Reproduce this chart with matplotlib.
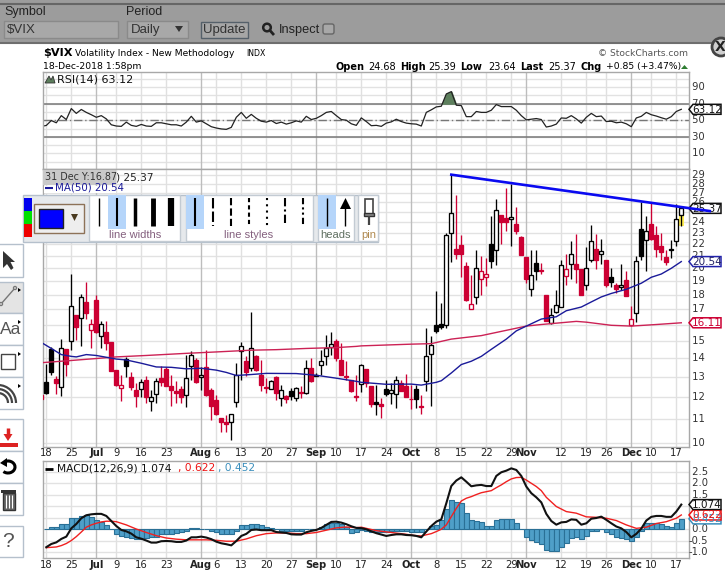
import numpy as np
import matplotlib
matplotlib.use("Agg")
import matplotlib.pyplot as plt
from matplotlib.patches import Rectangle, Polygon, FancyBboxPatch, Circle, Arc
from matplotlib.transforms import IdentityTransform

# ---------- data ----------
first_bar = -1
opens = [12.1,12.73,14.54,12.87,12.48,14.52,14.98,16.62,16.42,17.5,15.66,17.63,15.29,15.54,14.92,13.38,12.43,13.95,12.98,12.33,12.38,12.83,11.8,12.13,12.93,13.41,12.53,12.28,12.4,12.08,13.56,13.9,12.98,13.52,12.35,11.85,11.03,10.86,10.86,11.76,14.42,13.85,13.47,14.14,13.08,12.48,12.38,12.98,11.94,12.03,12.28,11.95,12.23,12.18,13.47,13.12,13.62,14.1,14.63,15.0,13.92,13.05,12.83,12.05,12.62,13.41,12.55,11.77,11.67,12.38,12.2,12.13,12.68,12.55,11.9,12.38,11.58,12.78,14.22,16.0,16.05,15.95,22.97,21.55,21.9,20.17,17.0,17.88,19.15,19.3,22.05,21.47,24.67,24.4,24.33,23.82,22.63,20.9,18.4,20.45,19.87,18.0,16.1,16.8,17.15,19.37,20.38,20.33,19.92,18.7,20.63,21.55,21.13,20.63,19.3,18.72,18.55,19.1,15.98,16.75,23.4,22.35,23.8,22.85,21.85,20.9,21.55,22.25,24.68]
highs = [12.1,13.69,14.63,13.02,15.12,14.52,19.57,16.62,18.07,18.94,16.37,18.0,16.2,16.2,14.92,13.38,13.11,14.07,13.27,12.68,12.88,13.02,12.35,12.93,13.56,13.52,13.11,12.77,12.52,14.2,14.42,14.01,13.5,14.48,12.43,12.1,11.03,11.18,11.2,13.74,14.92,14.14,16.8,14.2,13.92,12.93,12.85,13.05,12.6,12.1,12.43,12.48,12.52,13.92,14.01,13.18,14.48,15.35,15.55,15.1,14.87,13.82,12.83,13.1,13.7,13.41,12.55,12.6,11.94,12.85,12.68,13.05,12.85,13.16,12.6,12.6,12.1,15.8,15.27,18.3,17.4,22.97,29.0,26.8,22.8,20.5,19.5,21.5,21.0,20.8,24.6,26.35,24.67,27.5,28.0,25.5,22.73,20.9,21.5,21.5,20.45,18.0,17.1,18.35,20.63,21.2,22.3,22.9,19.92,21.77,23.73,22.9,22.5,20.7,20.0,18.83,20.38,19.75,17.25,21.0,26.0,24.6,25.9,23.7,23.0,21.5,22.35,25.85,25.39]
lows = [11.9,12.15,13.12,12.15,12.07,13.02,14.44,15.02,14.67,16.37,14.57,15.48,14.55,14.48,13.29,12.52,11.83,12.97,12.35,11.52,12.02,11.74,11.33,11.71,12.52,12.52,11.56,11.71,11.71,11.52,12.85,12.68,12.35,12.05,10.96,11.17,10.43,10.43,10.1,11.52,12.85,13.02,13.32,13.29,12.27,12.18,12.38,11.86,11.56,11.74,11.86,11.83,11.94,12.15,12.72,13.02,13.11,13.6,14.2,13.83,13.08,12.85,12.22,11.82,12.22,12.48,11.53,11.18,11.02,12.05,11.68,11.47,12.27,11.98,11.45,11.5,11.22,12.3,11.6,15.5,15.72,15.78,20.5,20.77,19.35,17.55,17.0,17.38,18.0,18.67,20.05,20.25,22.0,23.2,21.83,22.9,21.05,18.9,17.93,19.1,19.57,16.2,16.04,16.75,17.15,18.7,19.2,18.9,18.0,18.35,20.5,19.97,20.38,18.55,18.6,18.1,18.35,17.95,15.9,16.15,20.7,19.82,22.35,20.9,20.63,20.25,20.85,21.83,23.64]
closes = [11.9,12.2,13.23,12.7,14.57,13.67,17.22,15.83,17.84,16.73,16.02,15.52,16.04,14.85,13.29,12.6,12.58,13.56,12.47,12.07,12.73,11.98,12.02,12.77,12.75,12.52,12.32,12.17,12.02,12.93,14.16,12.73,13.08,12.08,11.56,11.2,10.85,10.76,11.2,13.08,14.67,13.23,14.55,13.34,12.57,12.42,12.77,12.17,12.32,11.89,12.07,12.42,12.18,13.45,12.77,13.05,13.83,14.55,14.78,14.03,13.12,12.97,12.27,11.98,13.62,12.68,11.65,11.68,11.6,12.12,12.33,12.83,12.3,12.0,11.89,11.92,11.53,14.12,14.75,15.58,15.82,22.87,24.87,21.2,21.15,17.65,17.35,20.0,19.75,19.53,20.62,25.2,24.03,24.0,24.53,23.2,21.1,19.2,19.47,19.82,19.75,16.2,16.6,17.27,20.3,19.92,21.13,19.92,18.0,20.0,22.33,20.63,21.38,18.7,18.95,18.4,18.7,17.95,16.35,20.6,21.0,23.15,22.45,21.63,21.33,20.5,21.47,24.35,25.37]
prev_close = 12.5

ma50_idx = [-1,1,3,5,6,8,10,12,14,16,19,22,25,28,31,34,36,38,41,44,50,54,58,62,63,68,73,75,78,79,81,83,85,87,89,92,94,96,99,102,104,107,109,111,113,116,119,121,123,125,127]
ma50_val = [14.9,14.55,14.2,14.1,14.07,14.2,14.15,14.05,13.95,13.9,13.72,13.52,13.5,13.42,13.45,13.35,13.23,13.07,13.12,13.18,13.17,13.08,12.93,12.77,12.72,12.62,12.63,12.58,12.72,12.8,13.2,13.65,13.83,14.1,14.5,15.1,15.6,15.9,16.35,16.5,16.9,17.15,17.5,17.85,18.1,18.4,18.85,19.3,19.55,20.0,20.54]
ma200_idx = [-1,4,10,14,20,28,34,41,46,52,58,62,63,73,77,81,87,96,99,106,108,113,117,122,127]
ma200_val = [13.75,13.85,13.98,14.07,14.15,14.27,14.35,14.45,14.48,14.55,14.6,14.67,14.7,14.8,14.83,15.1,15.31,15.9,16.0,16.2,16.15,15.95,15.9,16.0,16.11]

rsi_first = -1
rsi = [42.6,43.7,49.6,46.9,55.5,50.8,64,58.2,62.9,59.4,56.6,53.5,55.5,51.6,44.5,43,42.6,47.7,43.8,42.6,44.9,43,42.6,46.9,46.9,45.7,44.5,44.5,43,47.7,54.7,47.7,49.2,45.7,42.2,40.6,39.5,39,41.4,53.5,59.4,52.3,57,52.3,48.8,47.7,49.6,46,47.7,45.3,46.9,49.2,47.7,54.7,50.8,52.3,55.5,59.4,60.5,55.5,50.8,50,45.7,43.8,52.8,48.4,43.4,43.8,42.6,46.5,48,51.2,48.4,46.5,45.7,45.3,43,59.4,62.5,66,66.8,81.6,84.4,68,67.6,54.3,54.3,60.5,59.4,59.4,62,68.8,66.4,66.4,66.4,62,55.5,50.4,51.2,52,50.8,41.8,43,45.3,52.7,52.3,55.5,51.6,46.5,53.5,58.2,54.3,55,48.4,48.8,46.9,47.7,45.7,42.2,52.7,54.7,59.4,56.6,55,53,51.2,54.3,60.5,63.12]

macd_first = 0
macd = [-0.78,-0.64,-0.57,-0.42,-0.32,0.04,0.23,0.48,0.61,0.65,0.67,0.67,0.58,0.36,0.14,-0.03,-0.09,-0.19,-0.35,-0.41,-0.49,-0.58,-0.58,-0.52,-0.51,-0.52,-0.55,-0.55,-0.49,-0.35,-0.35,-0.32,-0.36,-0.43,-0.54,-0.61,-0.65,-0.7,-0.51,-0.29,-0.2,-0.03,-0.01,-0.04,-0.04,-0.04,-0.12,-0.14,-0.16,-0.22,-0.23,-0.23,-0.13,-0.07,-0.03,0.06,0.19,0.32,0.33,0.29,0.22,0.13,0.06,0.05,0,-0.09,-0.17,-0.23,-0.29,-0.25,-0.22,-0.22,-0.25,-0.26,-0.29,-0.35,-0.1,0.14,0.33,0.43,1.13,1.88,2.12,2.26,2.07,1.87,1.91,1.93,1.88,1.88,2.32,2.48,2.55,2.65,2.58,2.32,1.86,1.57,1.39,1.17,0.67,0.36,0.2,0.3,0.32,0.43,0.41,0.2,0.26,0.46,0.49,0.55,0.41,0.26,0.12,0.04,-0.12,-0.35,-0.2,0.03,0.38,0.54,0.58,0.58,0.54,0.54,0.77,1.074]
signal_idx = [0,2,3,4,5,6,7,8,9,10,11,12,13,14,15,16,18,20,22,24,26,28,30,32,34,36,38,40,42,44,46,48,50,52,54,56,58,60,62,63,66,69,72,74,75,77,78,79,80,81,82,83,84,85,86,87,89,90,91,92,93,94,95,96,97,98,99,100,102,104,106,108,110,112,114,116,118,120,122,124,126,127]
signal_val = [-0.8,-0.77,-0.71,-0.62,-0.49,-0.32,-0.12,0.09,0.19,0.26,0.32,0.35,0.35,0.33,0.26,0.19,0.01,-0.14,-0.28,-0.38,-0.43,-0.46,-0.46,-0.46,-0.48,-0.52,-0.52,-0.42,-0.28,-0.19,-0.16,-0.16,-0.19,-0.19,-0.14,-0.04,0.06,0.1,0.07,0.09,-0.06,-0.14,-0.22,-0.28,-0.29,-0.19,-0.1,0,0.19,0.55,0.91,1.23,1.35,1.42,1.51,1.59,1.68,1.81,1.93,2.07,2.19,2.25,2.26,2.14,2.0,1.86,1.68,1.39,0.99,0.77,0.7,0.54,0.52,0.48,0.38,0.19,0.04,0.09,0.25,0.33,0.48,0.622]
hist = [0,.09,.09,.22,.25,.49,.51,.58,.61,.52,.42,.3,.19,0,-.22,-.3,-.32,-.36,-.41,-.41,-.38,-.35,-.32,-.2,-.2,-.19,-.17,-.14,-.09,.04,.04,.03,.01,-.06,-.12,-.19,-.2,-.2,-.07,.17,.17,.25,.25,.17,.09,.04,0,-.06,-.06,-.06,-.06,-.06,0,0,.03,.09,.23,.26,.26,.22,.09,-.17,-.14,-.05,-.06,-.14,-.14,-.14,-.12,-.09,-.06,-.06,-.09,-.12,-.12,-.12,.03,.14,.2,.41,.87,1.28,1.2,1.13,.7,.41,.35,.3,.14,.14,.41,.43,.43,.43,.26,0,-.32,-.46,-.55,-.64,-.9,-.96,-.96,-.75,-.61,-.39,-.32,-.41,-.29,-.09,-.06,.01,-.13,-.2,-.32,-.36,-.41,-.49,-.32,-.06,.26,.26,.26,.23,.14,.09,.26,.452]

tick_idx = [0,5,10,14,19,24,31,34,39,44,49,54,58,63,68,73,78,83,88,93,96,103,108,112,117,121,126]
tick_lab = ['18','25','Jul','9','16','23','Aug','6','13','20','27','Sep','10','17','24','Oct','8','15','22','29','Nov','12','19','26','Dec','10','17']
months = ('Jul','Aug','Sep','Oct','Nov','Dec')
price_grid = [10,11,12,13,14,15,16,17,18,19,20,21,22,23,24,25,26,27,28,29]
price_ticks = [10,11,12,13,14,15,17,18,19,20,21,22,23,24,26,27,28,29]
rsi_ticks = [10,30,50,70,90]
macd_ticks = [-1.0,-0.5,0.0,1.5,2.0,2.5]
trend_x = [81, 132.7]
trend_y = [29.0, 25.1]

# ---------- layout ----------
W, H = 725, 571
fig = plt.figure(figsize=(W/100, H/100), dpi=100, facecolor='white')
L, R = 43, 689
UI = 'Liberation Sans'
CH = 'DejaVu Sans'
RED = '#cc0033'
GRID = '#e2e2e2'
VG = '#e0e0e0'
VGM = '#bdbdbd'
FR = '#a8a8a8'
xlim = ((L-46.3)/5, (R-46.3)/5)

def panel(top, bottom):
    ax = fig.add_axes([L/W, 1-bottom/H, (R-L)/W, (bottom-top)/H])
    ax.set_xlim(*xlim)
    ax.set_xticks([]); ax.set_yticks([])
    for s in ax.spines.values():
        s.set_color(FR); s.set_linewidth(1)
    ax.set_axisbelow(True)
    for t, l in zip(tick_idx, tick_lab):
        ax.axvline(t, color=VGM if l in months else VG, lw=1, zorder=0.5)
    return ax

def rlabels(ax, vals, fmt):
    tr = ax.get_yaxis_transform()
    for v in vals:
        ax.text(1.0, v, fmt(v), transform=tr, ha='left', va='center', fontsize=7.2, color='#333333',
                family=CH, clip_on=False)

def ax_tag(ax, v, txt, col):
    y = ax.transData.transform((0, v))[1]
    ypx = H - y
    ov.add_patch(Polygon([[689, ypx], [693, ypx-5], [721, ypx-5], [721, ypx+5], [693, ypx+5]],
                         closed=True, fc='white', ec=col, lw=1.1, zorder=6))
    ov.text(707, ypx+0.3, txt, color=col if col != '#2222aa' else '#222266', ha='center', va='center',
            fontsize=7.5, family=CH, zorder=7)

# ---- RSI panel
ax_r = panel(72, 169)
ax_r.set_ylim(-8.7, 108)
for v in range(0, 110, 10):
    ax_r.axhline(v, color=GRID, lw=1, zorder=0.4)
ax_r.axhline(70, color='#777777', lw=1.1, zorder=1)
ax_r.axhline(30, color='#777777', lw=1.1, zorder=1)
ax_r.axhline(50, color='#777777', lw=1, ls=(0, (6, 2, 1, 2)), zorder=1)
rx = np.arange(len(rsi)) + rsi_first
ra = np.array(rsi)
ax_r.fill_between(rx, 70, ra, where=ra > 70, interpolate=True, color='#5d7f5d', zorder=1.5)
ax_r.plot(rx, ra, color='#222222', lw=0.9, zorder=2)
rlabels(ax_r, rsi_ticks, lambda v: f' {v}')

# ---- price panel
ax_p = panel(169, 447)
ax_p.set_yscale('log')
ax_p.set_ylim(9.84, 29.66)
ax_p.set_yticks([]); ax_p.minorticks_off()
ax_p.set_yticks([], minor=True)
for v in price_grid:
    ax_p.axhline(v, color=GRID, lw=1, zorder=0.4)
bx = np.arange(len(opens)) + first_bar
op, hi, lo, cl = map(np.array, (opens, highs, lows, closes))
prev = np.concatenate([[prev_close], cl[:-1]])
cols = np.where(cl < prev, RED, 'black')
ax_p.bar(bx[-1], hi[-1]-lo[-1], bottom=lo[-1], width=1.1, color='#ffee55', zorder=2)
ax_p.vlines(bx, lo, hi, colors=cols, lw=0.95, zorder=3)
body_lo = np.minimum(op, cl); body_hi = np.maximum(op, cl)
faces = [c if o > k else 'white' for c, o, k in zip(cols, op, cl)]
ax_p.bar(bx, body_hi-body_lo, bottom=body_lo, width=0.78, facecolor=faces, edgecolor=cols, lw=0.95, zorder=4)
ax_p.plot(ma200_idx, ma200_val, color='#cc2255', lw=1.0, zorder=5)
ax_p.plot(ma50_idx, ma50_val, color='#1a1a99', lw=1.0, zorder=5)
rlabels(ax_p, price_ticks, lambda v: f' {v}')

# ---- MACD panel
ax_m = panel(461, 558)
ax_m.set_ylim(-1.25, 2.97)
for v in np.arange(-1, 3.01, .5):
    ax_m.axhline(v, color=GRID, lw=1, zorder=0.4)
mx = np.arange(len(macd)) + macd_first
ax_m.bar(mx, hist, width=1.0, color='#4f9fc8', edgecolor='#2a7096', lw=0.8, zorder=1.5)
ax_m.plot(signal_idx, signal_val, color='#f02020', lw=1.0, zorder=3)
ax_m.plot(mx, macd, color='#111111', lw=1.5, zorder=4)
rlabels(ax_m, macd_ticks, lambda v: f'{v:.1f}' if v < 0 else f' {v:.1f}')

# ---------- overlay in pixels ----------
ov = fig.add_axes([0, 0, 1, 1], zorder=10)
ov.set_xlim(0, W); ov.set_ylim(H, 0); ov.axis('off'); ov.patch.set_alpha(0)

def rect(x0, y0, x1, y1, fc='white', ec='none', lw=1, z=2):
    ov.add_patch(Rectangle((x0, y0), x1-x0, y1-y0, fc=fc, ec=ec, lw=lw, zorder=z))
def txt(x, y, s, size=8, fam=CH, col='black', w='normal', ha='left', z=5, va='center'):
    ov.text(x, y, s, fontsize=size, family=fam, color=col, weight=w, ha=ha, va=va, zorder=z, parse_math=False)
def line(xs, ys, col='black', lw=1, ls='-', z=4):
    ov.plot(xs, ys, color=col, lw=lw, ls=ls, zorder=z, solid_capstyle='butt')

# x tick labels
for t, l in zip(tick_idx, tick_lab):
    xpx = 46.3 + 5*t
    for yy in (453.5, 565):
        txt(xpx, yy, l, size=7.2, ha='center', w='bold' if l in months else 'normal', col='#222222')

# header bar
rect(0, 0, W, 43, fc='#9c9c9c', ec='none')
line([0, W], [3.5, 3.5], col='#666666', lw=1.5)
line([0, W], [42.5, 42.5], col='#6e6e6e', lw=1.5)
txt(4, 12, 'Symbol', 9, UI, '#222222')
txt(126, 12, 'Period', 9, UI, '#222222')
rect(4.5, 21, 118, 38, fc='#a8a8a8', ec='#8a8a8a')
txt(7, 30, '$VIX', 9.5, UI, '#333333')
rect(127, 21, 188, 38, fc='#a8a8a8', ec='#8a8a8a')
txt(131, 30, 'Daily', 9.5, UI, '#333333')
ov.add_patch(Polygon([[175, 26], [183, 26], [179, 32]], fc='#333333', zorder=4))
rect(201.5, 21.5, 248, 37.5, fc='#a6a6a6', ec='#55606a')
txt(224.5, 30, 'Update', 9.5, UI, '#333333', ha='center')
ov.add_patch(Circle((267, 27.5), 3.8, fc='none', ec='#222222', lw=1.8, zorder=4))
line([270, 274], [30.5, 35], col='#222222', lw=2)
txt(279, 30, 'Inspect', 9.2, UI, '#222222')
ov.add_patch(FancyBboxPatch((323, 24), 11, 10, boxstyle='round,pad=0,rounding_size=2', fc='#a8a8a8', ec='#666666', zorder=4))

# title rows
txt(43, 53, '$VIX', 8.2, CH, w='bold')
txt(75, 53.5, 'Volatility Index - New Methodology', 6.6, CH)
txt(246, 54, 'INDX', 5.6, CH)
txt(43, 66.5, '18-Dec-2018 1:58pm', 6.7, CH)
txt(688, 53.5, '© StockCharts.com', 6.6, CH, '#555555', ha='right')
txt(336, 66.5, 'Open', 7, CH, w='bold')
txt(368, 66.5, '24.68', 7, CH)
txt(400.5, 66.5, 'High', 7, CH, w='bold')
txt(428, 66.5, '25.39', 7, CH)
txt(460.5, 66.5, 'Low', 7, CH, w='bold')
txt(488, 66.5, '23.64', 7, CH)
txt(520.5, 66.5, 'Last', 7, CH, w='bold')
txt(548, 66.5, '25.37', 7, CH)
txt(581, 66.5, 'Chg', 7, CH, w='bold')
txt(606, 66.5, '+0.85 (+3.47%)', 6.7, CH)
ov.add_patch(Polygon([[681, 69], [688, 69], [684.5, 65]], fc='#2e7d32', zorder=4))

# close button
ov.add_patch(Circle((721, 47), 9, fc='#cfcfcf', ec='#444444', lw=2, zorder=4))
txt(720, 47, 'X', 10, CH, '#222222', w='bold', ha='center', z=5)

# panel legends
ov.add_patch(Polygon([[45, 83], [49, 76], [51, 80], [53, 76], [55, 83]], fc='#5d7f5d', ec='#333333', lw=.6, zorder=4))
txt(57, 79.5, 'RSI(14) 63.12', 8, CH, '#111111')
rect(43, 170, 116, 185, fc='#c9c9c9', z=4)
txt(45, 177.5, '31 Dec Y:16.87', 6.9, CH, '#333333')
txt(116, 177, ') 25.37', 7.6, CH, '#222222')
rect(44, 186, 116, 193, fc='white', z=3)
line([45, 53], [187.5, 187.5], col='#1a1a99', lw=1.5)
txt(55, 188, 'MA(50) 20.54', 7.4, CH, '#1a1a99')
line([45, 53], [468.5, 468.5], col='black', lw=2)
txt(57, 468.5, 'MACD(12,26,9) 1.074', 7.7, CH, '#111111')
txt(178, 468.5, ', 0.622', 7.7, CH, '#ee1111')
txt(218, 468.5, ', 0.452', 7.7, CH, '#3b8fbd')

# drawing palette
rect(23.5, 194.5, 378.5, 241.5, fc='#e6e9ec', ec='#b5c0cc', z=3)
rect(24, 198, 32, 211, fc='#0000ee', z=4)
rect(24, 211, 32, 224, fc='#00e000', z=4)
rect(24, 224, 32, 237, fc='#ee0000', z=4)
rect(34.5, 203.5, 84, 232.5, fc='#eeeeee', ec='#8d7258', z=4)
rect(39.5, 208.5, 63.5, 228, fc='#0000ff', ec='#222222', z=5)
ov.add_patch(Polygon([[71, 214], [78, 214], [74.5, 221]], fc='#4a3a20', zorder=5))
for a, b in ((89.5, 180), (186, 313), (318, 354)):
    rect(a, 195, b, 241, fc='white', ec='#c3cbd3', z=3.5)
rect(108, 195, 126, 229, fc='#b5d5fa', z=4)
rect(186, 195, 204, 229, fc='#b5d5fa', z=4)
rect(318, 195, 336, 229, fc='#b5d5fa', z=4)
for x, w in zip([99.5, 117, 135.5, 153, 171.5], [1, 1.5, 2.5, 3.5, 4.5]):
    line([x, x], [198, 226], lw=w, z=5)
dash_styles = ['-', (0, (5, 1.5)), (0, (3.5, 1.5)), (0, (2, 1.5)), (0, (1, 2)), (0, (4, 1.5, 1, 1.5)), (0, (3, 1.5, 1, 1.5, 1, 1.5))]
for x, st in zip([195, 213, 231, 249, 267, 285, 303], dash_styles):
    line([x, x], [198, 226], lw=1.5, ls=st, z=5)
line([327.5, 327.5], [198, 226], lw=1, z=5)
line([345.5, 345.5], [205, 226], lw=1, z=5)
ov.add_patch(Polygon([[340, 209], [351, 209], [345.5, 198]], fc='black', zorder=5))
txt(135, 235, 'line widths', 8, UI, '#84607e', ha='center', z=6)
txt(249, 235, 'line styles', 8, UI, '#84607e', ha='center', z=6)
txt(336, 235, 'heads', 8, UI, '#5f6f60', ha='center', z=6)
rect(358, 195, 378.5, 241, fc='white', ec='#c3cbd3', z=3.5)
rect(365.5, 199, 373.5, 214, fc='white', ec='#444444', lw=1.2, z=5)
rect(364.5, 212.5, 374, 216, fc='#888888', ec='#333333', z=5)
line([369.5, 369.5], [216, 225], col='#444444', lw=1.6, z=5)
txt(369, 235, 'pin', 8, UI, '#b08a50', ha='center', z=6)

# left toolbar
for a, b, fc in ((244, 277, 'white'), (282, 313, '#e4e4e4'), (313, 345, 'white'), (345, 377, 'white'),
                 (377, 409, 'white'), (419, 451, 'white'), (451, 483, 'white'), (483, 515, 'white'), (526, 557, 'white')):
    rect(-2, a, 23.5, b, fc=fc, ec='#b5c0cc', z=3)
ov.add_patch(Polygon([[3, 251], [3, 268], [7, 264], [11, 270], [13.5, 268], [10.5, 262], [15, 262]], fc='#333333', zorder=4))
line([1, 15], [304, 288], col='#777777', lw=1)
ov.add_patch(Circle((1, 304), 1.5, fc='white', ec='#777777', zorder=5))
ov.add_patch(Circle((15, 288), 1.5, fc='white', ec='#777777', zorder=5))
txt(0, 330, 'Aa', 12.5, UI, '#555555')
rect(1, 354, 15.5, 369, fc='white', ec='#444444', z=4)
for r in (10, 14, 18):
    ov.add_patch(Arc((-2, 403), 2*r, 2*r, theta1=270, theta2=360, ec='#444444', lw=1.6, zorder=4))
for yy in (290, 322, 354, 386):
    ov.add_patch(Polygon([[18, yy-2], [18, yy+2], [21, yy]], fc='black', zorder=5))
line([8, 8], [428, 437], col='#dd2222', lw=2.5)
ov.add_patch(Polygon([[3.5, 434], [12.5, 434], [8, 441]], fc='#dd2222', zorder=5))
rect(0, 443, 18, 447, fc='#dd2222', z=4)
ov.add_patch(Arc((8, 467), 14, 12, theta1=-110, theta2=135, ec='black', lw=2.2, zorder=4))
ov.add_patch(Polygon([[0, 463], [7, 458], [7, 467]], fc='black', zorder=5))
rect(3, 493, 15, 510, fc='#666666', ec='#333333', z=4)
for x in (6, 9, 12):
    line([x, x], [495, 508], col='white', lw=.8, z=5)
rect(1.5, 490, 16, 492.5, fc='#333333', z=4)
txt(8, 541.5, '?', 15, UI, '#555555', ha='center')

# value tags
ax_tag(ax_m, 0.452, '0.452', '#3b8fbd')
ax_tag(ax_m, 0.622, '0.622', '#ee1111')
ax_tag(ax_m, 1.074, '1.074', '#111111')
ax_tag(ax_r, 63.12, '63.12', '#111111')
ax_tag(ax_p, 16.11, '16.11', RED)
ax_tag(ax_p, 20.54, '20.54', '#2222aa')
ax_tag(ax_p, 25.37, '25.37', '#111111')

# trend line runs over the value tag, so it sits in the top layer
tp = ax_p.transData.transform(list(zip(trend_x, trend_y)))
ov.plot(tp[:, 0], tp[:, 1], transform=IdentityTransform(), color='#0a0af0', lw=1.9, zorder=8, clip_on=False)

fig.savefig('out.png', dpi=100)
